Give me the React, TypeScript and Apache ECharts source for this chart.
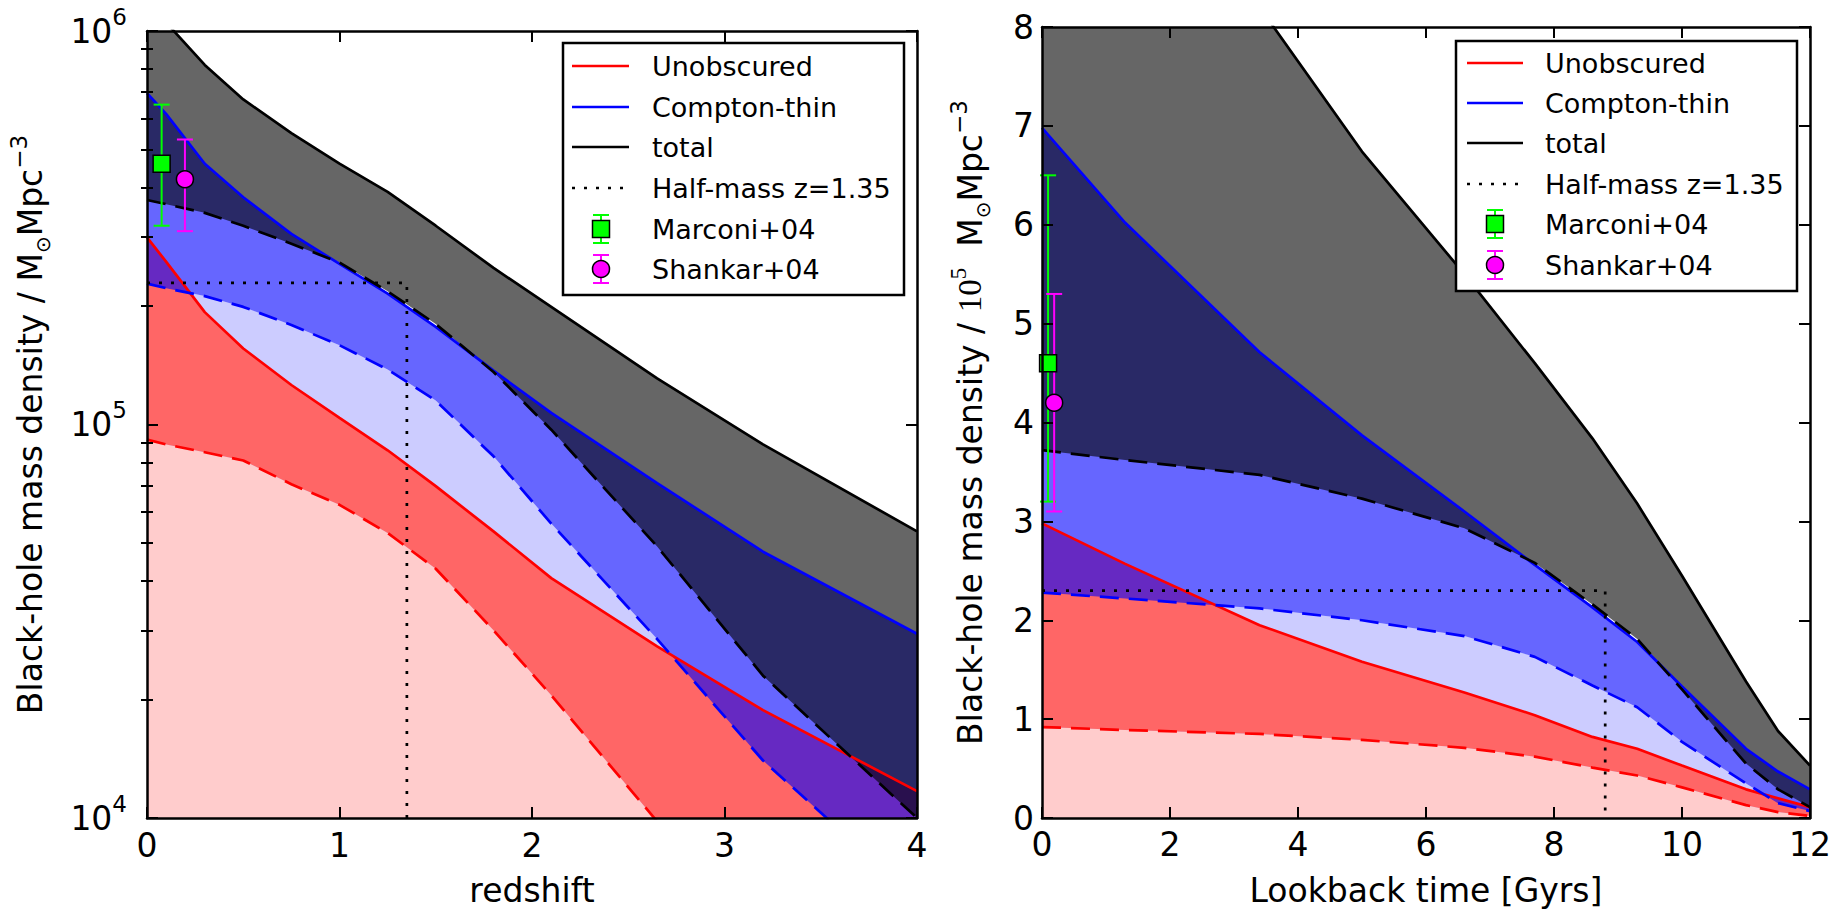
import React, { useEffect, useRef } from 'react';
import * as echarts from 'echarts';

const FONT = 'DejaVu Sans';
const SERIF = 'Liberation Serif';

// ---------- left panel: density vs redshift (M_sun / Mpc^3) ----------
const zGrid = [0, 0.1, 0.3, 0.5, 0.75, 1.0, 1.25, 1.5, 1.8, 2.1, 2.65, 3.2, 4.0];
const totalHiZ = [1.18e6, 1.05e6, 8.2e5, 6.7e5, 5.5e5, 4.6e5, 3.9e5, 3.2e5, 2.5e5, 1.99e5, 1.31e5, 8.9e4, 5.35e4];
const totalLoZ = [3.72e5, 3.63e5, 3.45e5, 3.2e5, 2.88e5, 2.58e5, 2.18e5, 1.8e5, 1.36e5, 9.7e4, 4.9e4, 2.3e4, 1.0e4];
const thinHiZ = [6.95e5, 6.15e5, 4.6e5, 3.78e5, 3.05e5, 2.56e5, 2.15e5, 1.77e5, 1.37e5, 1.07e5, 7.1e4, 4.75e4, 2.94e4];
const thinLoZ = [2.28e5, 2.22e5, 2.12e5, 1.99e5, 1.79e5, 1.59e5, 1.38e5, 1.15e5, 8.3e4, 5.6e4, 2.85e4, 1.4e4, 6.2e3];
const unobsHiZ = [2.99e5, 2.59e5, 1.93e5, 1.56e5, 1.26e5, 1.04e5, 8.6e4, 6.97e4, 5.35e4, 4.07e4, 2.73e4, 1.88e4, 1.17e4];
const unobsLoZ = [9.15e4, 8.9e4, 8.5e4, 8.1e4, 7.05e4, 6.25e4, 5.3e4, 4.3e4, 3.0e4, 2.05e4, 9.8e3, 4.7e3, 1.6e3];

// ---------- right panel: density vs lookback time (1e5 M_sun / Mpc^3) ----------
const tGrid = [0, 1.3, 3.4, 5.0, 6.6, 7.7, 8.6, 9.3, 10.0, 11.0, 11.5, 12.0];
const totalHiT = [11.8, 10.5, 8.2, 6.74, 5.5, 4.6, 3.84, 3.18, 2.45, 1.38, 0.88, 0.53];
const totalLoT = [3.72, 3.62, 3.47, 3.23, 2.93, 2.58, 2.16, 1.81, 1.3, 0.55, 0.29, 0.11];
const thinHiT = [6.98, 6.02, 4.71, 3.87, 3.1, 2.56, 2.13, 1.78, 1.33, 0.7, 0.47, 0.29];
const thinLoT = [2.28, 2.22, 2.12, 2.0, 1.84, 1.63, 1.34, 1.12, 0.77, 0.35, 0.15, 0.07];
const unobsHiT = [2.98, 2.57, 1.95, 1.58, 1.27, 1.04, 0.82, 0.7, 0.53, 0.29, 0.2, 0.11];
const unobsLoT = [0.92, 0.89, 0.85, 0.79, 0.71, 0.62, 0.51, 0.43, 0.31, 0.13, 0.06, 0.02];

// half-mass markers
const halfMassZ = 1.35;
const halfMassT = 8.8;
const halfMassValZ = 2.29e5;
const halfMassValT = 2.3;

// local observational estimates
const obsNames = ['Marconi+04', 'Shankar+04'];
const obsSymbols = ['rect', 'circle'];
const obsColors = ['#00ff00', '#ff00ff'];
const obsZ = [0.076, 0.197];
const obsT = [0.095, 0.19];
const obsValZ = [4.6e5, 4.2e5];
const obsLoZ = [3.2e5, 3.1e5];
const obsHiZ = [6.5e5, 5.3e5];
const obsValT = [4.6, 4.2];
const obsLoT = [3.2, 3.1];
const obsHiT = [6.5, 5.3];

// axis ticks
const leftMinorTicks = [2e4, 3e4, 4e4, 5e4, 6e4, 7e4, 8e4, 9e4, 2e5, 3e5, 4e5, 5e5, 6e5, 7e5, 8e5, 9e5];
const legendLabels = ['Unobscured', 'Compton-thin', 'total', 'Half-mass z=1.35', 'Marconi+04', 'Shankar+04'];

const RED = '#ff0000';
const BLUE = '#0000ff';
const BLACK = '#000000';
const LW = 2.7;
const DASH = [19, 10];
const DOT = [3, 9];
const FS = 33;
const FSS = 23;

function band(xs: number[], lo: number[] | number, hi: number[], fill: string, xi: number, yi: number) {
  return {
    type: 'custom',
    xAxisIndex: xi,
    yAxisIndex: yi,
    clip: true,
    silent: true,
    z: 1,
    data: xs.map((x, i) => [x, Array.isArray(lo) ? lo[i] : lo, hi[i]]),
    encode: { x: 0, y: 2 },
    renderItem: (params: any, api: any) => {
      if (params.dataIndex !== 0) return null;
      const top = xs.map((x, i) => api.coord([x, hi[i]]));
      const bot = xs.map((x, i) => api.coord([x, Array.isArray(lo) ? lo[i] : lo])).reverse();
      return { type: 'polygon', shape: { points: top.concat(bot) }, style: { fill, stroke: 'none' } };
    },
  };
}

function line(xs: number[], ys: number[], color: string, type: any, xi: number, yi: number, z = 3) {
  return {
    type: 'line',
    xAxisIndex: xi,
    yAxisIndex: yi,
    data: xs.map((x, i) => [x, ys[i]]),
    showSymbol: false,
    symbol: 'none',
    clip: true,
    silent: true,
    z,
    lineStyle: { color, width: LW, type, cap: 'butt' },
  };
}

function errorBars(xs: number[], lo: number[], hi: number[], xi: number, yi: number) {
  return {
    type: 'custom',
    xAxisIndex: xi,
    yAxisIndex: yi,
    silent: true,
    z: 5,
    data: xs.map((x, i) => [x, lo[i], hi[i]]),
    encode: { x: 0, y: [1, 2] },
    renderItem: (params: any, api: any) => {
      const x = api.value(0);
      const a = api.coord([x, api.value(1)]);
      const b = api.coord([x, api.value(2)]);
      const c = obsColors[params.dataIndex];
      const st = { stroke: c, lineWidth: 2 };
      const w = 8;
      return {
        type: 'group',
        children: [
          { type: 'line', shape: { x1: a[0], y1: a[1], x2: b[0], y2: b[1] }, style: st },
          { type: 'line', shape: { x1: a[0] - w, y1: a[1], x2: a[0] + w, y2: a[1] }, style: st },
          { type: 'line', shape: { x1: b[0] - w, y1: b[1], x2: b[0] + w, y2: b[1] }, style: st },
        ],
      };
    },
  };
}

function markers(xs: number[], ys: number[], xi: number, yi: number) {
  return {
    type: 'scatter',
    xAxisIndex: xi,
    yAxisIndex: yi,
    silent: true,
    z: 6,
    symbolSize: 17,
    data: xs.map((x, i) => ({
      value: [x, ys[i]],
      name: obsNames[i],
      symbol: obsSymbols[i],
      itemStyle: { color: obsColors[i], borderColor: '#000', borderWidth: 1.5, opacity: 1 },
    })),
  };
}

function panel(xs: number[], floor: number, d: number[][], xi: number, yi: number, half: number[][], ox: number[], ov: number[], olo: number[], ohi: number[]) {
  const [tHi, tLo, bHi, bLo, rHi, rLo] = d;
  return [
    band(xs, floor, bLo, '#ccccff', xi, yi),
    band(xs, floor, rLo, '#ffcccc', xi, yi),
    band(xs, rLo, rHi, '#ff6666', xi, yi),
    band(xs, bLo, bHi, 'rgba(0,0,255,0.6)', xi, yi),
    band(xs, tLo, tHi, 'rgba(0,0,0,0.6)', xi, yi),
    line(xs, rLo, RED, DASH, xi, yi),
    line(xs, rHi, RED, 'solid', xi, yi),
    line(xs, bLo, BLUE, DASH, xi, yi),
    line(xs, bHi, BLUE, 'solid', xi, yi),
    line(xs, tLo, BLACK, DASH, xi, yi),
    line(xs, tHi, BLACK, 'solid', xi, yi),
    {
      type: 'line',
      xAxisIndex: xi,
      yAxisIndex: yi,
      data: half,
      showSymbol: false,
      symbol: 'none',
      silent: true,
      z: 4,
      lineStyle: { color: BLACK, width: LW, type: DOT },
    },
    errorBars(ox, olo, ohi, xi, yi),
    markers(ox, ov, xi, yi),
  ];
}

function legend(box: number[], rows: number[], sL: number, sR: number, mX: number, tX: number) {
  const els: any[] = [];
  els.push({
    type: 'rect',
    shape: { x: box[0], y: box[1], width: box[2], height: box[3] },
    style: { fill: '#fff', stroke: '#000', lineWidth: 2.5 },
    z: 100,
  });
  const ls = [
    { stroke: RED },
    { stroke: BLUE },
    { stroke: BLACK },
    { stroke: BLACK, lineDash: DOT },
  ];
  for (let i = 0; i < 4; i++) {
    els.push({ type: 'line', shape: { x1: sL, y1: rows[i], x2: sR, y2: rows[i] }, style: { ...ls[i], lineWidth: LW }, z: 101 });
  }
  for (let k = 0; k < 2; k++) {
    const y = rows[4 + k];
    const c = obsColors[k];
    const st = { stroke: c, lineWidth: 2 };
    els.push({ type: 'line', shape: { x1: mX, y1: y - 14, x2: mX, y2: y + 14 }, style: st, z: 101 });
    els.push({ type: 'line', shape: { x1: mX - 8, y1: y - 14, x2: mX + 8, y2: y - 14 }, style: st, z: 101 });
    els.push({ type: 'line', shape: { x1: mX - 8, y1: y + 14, x2: mX + 8, y2: y + 14 }, style: st, z: 101 });
    if (k === 0) {
      els.push({ type: 'rect', shape: { x: mX - 8.5, y: y - 8.5, width: 17, height: 17 }, style: { fill: c, stroke: '#000', lineWidth: 1.5 }, z: 102 });
    } else {
      els.push({ type: 'circle', shape: { cx: mX, cy: y, r: 8.5 }, style: { fill: c, stroke: '#000', lineWidth: 1.5 }, z: 102 });
    }
  }
  legendLabels.forEach((t, i) => {
    els.push({
      type: 'text',
      x: tX,
      y: rows[i],
      style: { text: t, fontSize: 27, fontFamily: FONT, fill: '#000', align: 'left', verticalAlign: 'middle' },
      z: 102,
    });
  });
  return els;
}

const axisLineStyle = { show: true, onZero: false, lineStyle: { color: '#000', width: 2.5 } };
const majorTick = { show: true, inside: true, length: 11, lineStyle: { color: '#000', width: 2 } };
const labelStyle = { fontSize: FS, fontFamily: FONT, color: '#000', lineHeight: 38 };
const nameRich = {
  n: { fontSize: FS, fontFamily: FONT, color: '#000', lineHeight: 46 },
  sub: { fontSize: 20, fontFamily: FONT, color: '#000', lineHeight: 36, verticalAlign: 'bottom' },
  sup: { fontSize: FSS, fontFamily: FONT, color: '#000', lineHeight: 23, verticalAlign: 'top' },
  serif: { fontSize: FS, fontFamily: SERIF, color: '#000', lineHeight: 46 },
  ssup: { fontSize: FSS, fontFamily: SERIF, color: '#000', lineHeight: 23, verticalAlign: 'top' },
};

function buildOption() {
  const grids = [
    { left: 147, top: 31, width: 770, height: 794 },
    { left: 1042, top: 27, width: 768, height: 794 },
  ];
  const xAxis = [
    {
      gridIndex: 0, type: 'value', min: 0, max: 4, interval: 1, position: 'bottom', z: 10,
      axisLine: axisLineStyle, axisTick: majorTick, splitLine: { show: false },
      axisLabel: { ...labelStyle, margin: 8 },
      name: 'redshift', nameLocation: 'middle', nameGap: 52,
      nameTextStyle: { fontSize: FS, fontFamily: FONT, color: '#000', lineHeight: 40 },
    },
    {
      gridIndex: 0, type: 'value', min: 0, max: 4, interval: 1, position: 'top', z: 10,
      axisLine: axisLineStyle, axisTick: majorTick, splitLine: { show: false }, axisLabel: { show: false },
    },
    {
      gridIndex: 1, type: 'value', min: 0, max: 12, interval: 2, position: 'bottom', z: 10,
      axisLine: axisLineStyle, axisTick: majorTick, splitLine: { show: false },
      axisLabel: { ...labelStyle, margin: 7 },
      name: 'Lookback time [Gyrs]', nameLocation: 'middle', nameGap: 52,
      nameTextStyle: { fontSize: FS, fontFamily: FONT, color: '#000', lineHeight: 40 },
    },
    {
      gridIndex: 1, type: 'value', min: 0, max: 12, interval: 2, position: 'top', z: 10,
      axisLine: axisLineStyle, axisTick: majorTick, splitLine: { show: false }, axisLabel: { show: false },
    },
  ];
  const yAxis = [
    {
      gridIndex: 0, type: 'log', logBase: 10, min: 1e4, max: 1e6, position: 'left', z: 10,
      axisLine: axisLineStyle, axisTick: majorTick, splitLine: { show: false },
      axisLabel: {
        margin: 20,
        formatter: (v: number) => `{b|10}{s|${Math.round(Math.log10(v))}}`,
        rich: {
          b: { fontSize: FS, fontFamily: FONT, color: '#000', lineHeight: 52 },
          s: { fontSize: FSS, fontFamily: FONT, color: '#000', lineHeight: 23, verticalAlign: 'top' },
        },
      },
      name: '{n|Black-hole mass density / M}{sub|⊙}{n|Mpc}{sup|−3}',
      nameLocation: 'middle', nameRotate: 90, nameGap: 94,
      nameTextStyle: { rich: nameRich },
    },
    {
      gridIndex: 0, type: 'log', logBase: 10, min: 1e4, max: 1e6, position: 'right', z: 10,
      axisLine: axisLineStyle, axisTick: majorTick, splitLine: { show: false }, axisLabel: { show: false },
    },
    {
      gridIndex: 0, type: 'log', logBase: 10, min: 1e4, max: 1e6, position: 'left', z: 10,
      axisLine: { show: false }, splitLine: { show: false }, axisLabel: { show: false },
      axisTick: { show: true, inside: true, length: 6, customValues: leftMinorTicks, lineStyle: { color: '#000', width: 2 } },
    },
    {
      gridIndex: 0, type: 'log', logBase: 10, min: 1e4, max: 1e6, position: 'right', z: 10,
      axisLine: { show: false }, splitLine: { show: false }, axisLabel: { show: false },
      axisTick: { show: true, inside: true, length: 6, customValues: leftMinorTicks, lineStyle: { color: '#000', width: 2 } },
    },
    {
      gridIndex: 1, type: 'value', min: 0, max: 8, interval: 1, position: 'left', z: 10,
      axisLine: axisLineStyle, axisTick: majorTick, splitLine: { show: false },
      axisLabel: { ...labelStyle, margin: 8 },
      name: '{n|Black-hole mass density / }{serif|10}{ssup|5}{n|  M}{sub|⊙}{n|Mpc}{sup|−3}',
      nameLocation: 'middle', nameRotate: 90, nameGap: 49,
      nameTextStyle: { rich: nameRich },
    },
    {
      gridIndex: 1, type: 'value', min: 0, max: 8, interval: 1, position: 'right', z: 10,
      axisLine: axisLineStyle, axisTick: majorTick, splitLine: { show: false }, axisLabel: { show: false },
    },
  ];

  const series = [
    ...panel(zGrid, 1e3, [totalHiZ, totalLoZ, thinHiZ, thinLoZ, unobsHiZ, unobsLoZ], 0, 0,
      [[0, halfMassValZ], [halfMassZ, halfMassValZ], [halfMassZ, 1e4]], obsZ, obsValZ, obsLoZ, obsHiZ),
    ...panel(tGrid, 0, [totalHiT, totalLoT, thinHiT, thinLoT, unobsHiT, unobsLoT], 2, 4,
      [[0, halfMassValT], [halfMassT, halfMassValT], [halfMassT, 0]], obsT, obsValT, obsLoT, obsHiT),
  ];

  return {
    animation: false,
    backgroundColor: '#ffffff',
    grid: grids,
    xAxis,
    yAxis,
    series,
    graphic: [
      ...legend([563, 43, 341, 252], [66, 107, 147, 188, 229, 269], 572, 629, 601, 652),
      ...legend([1456, 41, 341, 250], [63, 103, 143, 184, 224, 265], 1467, 1523, 1495, 1545),
    ],
  };
}

export default function App() {
  const ref = useRef<HTMLDivElement>(null);
  useEffect(() => {
    const chart = echarts.init(ref.current!, null, { renderer: 'svg' });
    chart.setOption(buildOption() as any);
    return () => chart.dispose();
  }, []);
  return (
    <div
      ref={ref}
      style={{ position: 'fixed', left: 0, top: 0, width: 1845, height: 915, background: '#fff' }}
    />
  );
}
